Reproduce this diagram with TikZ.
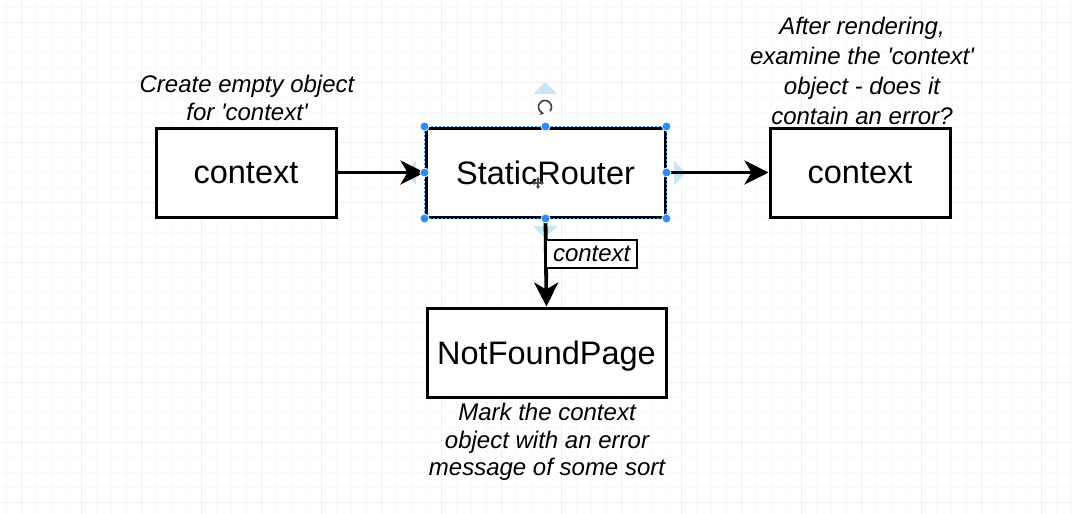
\documentclass[tikz,border=0pt]{standalone}
\usepackage{fontspec}
\setmainfont{Liberation Sans}[Ligatures=TeXOff]
\usetikzlibrary{arrows.meta}
\definecolor{gridmajor}{HTML}{EFEFEF}
\definecolor{gridminor}{HTML}{F9F9F9}
\definecolor{selblue}{HTML}{2B8CF2}
\definecolor{hintblue}{HTML}{C8E5F8}
\tikzset{
  box/.style={draw=black, line width=3pt, fill=white, inner sep=0pt,
    minimum height=89pt, text depth=0pt, font=\fontsize{32.5}{39}\selectfont},
  note/.style={align=center, inner sep=0pt, font=\fontsize{24}{28}\selectfont\itshape},
  flow/.style={line width=3.8pt, -{Stealth[length=24pt,width=24pt,inset=7pt]}},
  tag/.style={draw=black, line width=2.4pt, fill=white, inner sep=0pt,
    minimum width=91pt, minimum height=28pt, font=\fontsize{24}{28}\selectfont\itshape},
  handle/.style={circle, fill=selblue, draw=white, line width=0.8pt, inner sep=0pt, minimum size=9pt},
}
\begin{document}
\begin{tikzpicture}[x=1pt,y=-1pt]
\useasboundingbox (0,0) rectangle (1072,514);
\fill[white] (0,0) rectangle (1072,514);
% grid
\foreach \x in {6,21,...,1072} \draw[gridminor, line width=0.8pt] (\x,0) -- (\x,514);
\foreach \y in {7,22,...,514} \draw[gridminor, line width=0.8pt] (0,\y) -- (1072,\y);
\foreach \x in {21,81,...,1072} \draw[gridmajor, line width=1pt] (\x,0) -- (\x,514);
\foreach \y in {22,82,...,514} \draw[gridmajor, line width=1pt] (0,\y) -- (1072,\y);

% boxes
\node[box, minimum width=180pt] (ctxL) at (246,172.5) {context};
\node[box, minimum width=239pt] (sr) at (545.5,172.5) {StaticRouter};
\node[box, minimum width=180pt] (ctxR) at (860,172.5) {context};
\node[box, minimum width=239pt] (nf) at (546.5,352.5) {NotFoundPage};

% notes
\node[note] (n1) at (247,98) {Create empty object\\for 'context'};
\node[note, font=\fontsize{24}{30}\selectfont\itshape] (n2) at (862,71) {After rendering,\\examine the 'context'\\object - does it\\contain an error?};
\node[note, font=\fontsize{24}{27.5}\selectfont\itshape] (n3) at (547,442) {Mark the context\\object with an error\\message of some sort};

% hint triangles of the selection
\fill[hintblue] (533,94) -- (557,94) -- (545,82) -- cycle;
\fill[hintblue] (533,226) -- (557,226) -- (545,238) -- cycle;
\fill[hintblue] (674,161) -- (674,185) -- (686,173) -- cycle;
\fill[hintblue] (416,161) -- (416,185) -- (404,173) -- cycle;

% connectors
\draw[flow] (ctxL.east) -- (sr.west);
\draw[flow] (sr.east) -- (ctxR.west);
\draw[flow] (sr.south) -- (nf.north);
\node[tag, anchor=west] (lbl) at (545,254) {context};

% selection outline and handles
\draw[selblue, line width=1pt, dash pattern=on 2pt off 2pt] (sr.north west) rectangle (sr.south east);
\foreach \a in {north west,north,north east,west,east,south west,south,south east}
  \node[handle] at (sr.\a) {};
% rotate icon
\coordinate (rot) at (545,107);
\draw[black!75, line width=1.6pt, -{Stealth[length=4pt,width=5pt]}] (rot) ++(-40:6.5pt) arc[start angle=-40, end angle=260, radius=6.5pt];
% move cursor
\coordinate (cur) at (538,183);
\draw[black!70, line width=1.2pt, {Stealth[length=3pt,width=4pt]}-{Stealth[length=3pt,width=4pt]}] ([xshift=-6pt]cur) -- ([xshift=6pt]cur);
\draw[black!70, line width=1.2pt, {Stealth[length=3pt,width=4pt]}-{Stealth[length=3pt,width=4pt]}] ([yshift=-6pt]cur) -- ([yshift=6pt]cur);
\end{tikzpicture}
\end{document}
